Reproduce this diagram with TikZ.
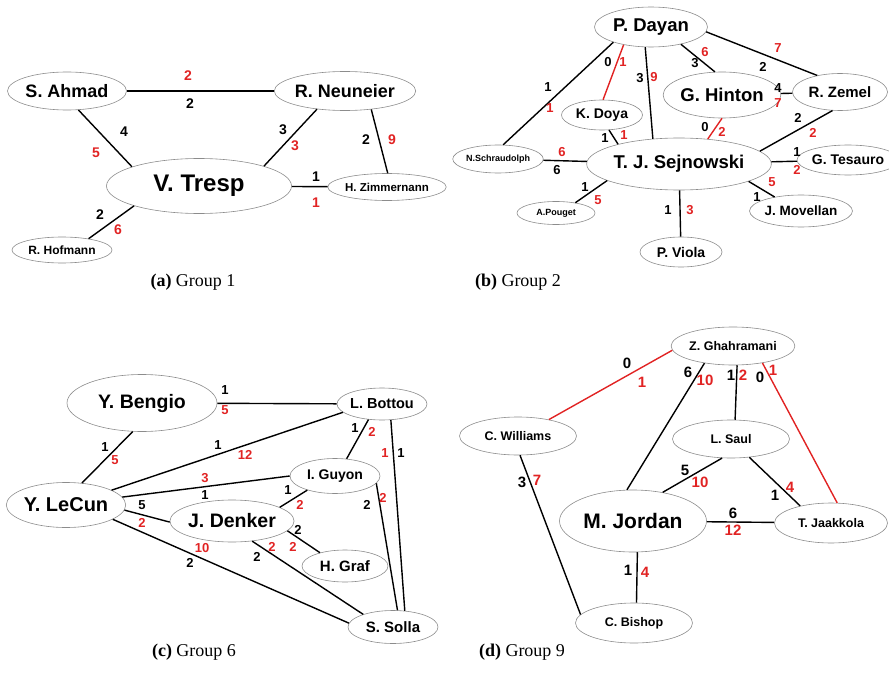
\documentclass[tikz,border=0pt]{standalone}
\usepackage{fontspec}
\setmainfont{Liberation Serif}
\setsansfont{Liberation Sans}
\usetikzlibrary{shapes.geometric}
\definecolor{wred}{RGB}{225,35,35}
\newcommand{\fsz}[1]{\fontsize{#1}{#1}\selectfont}

\begin{document}
\begin{tikzpicture}[
    x=1pt, y=-1pt,
    % Node styles
    person/.style={ellipse, draw=black!45, line width=0.6pt, inner sep=0pt, font=\sffamily\bfseries},
    link/.style={line width=1.4pt, draw=black},
    redlink/.style={line width=1.4pt, draw=wred},
    lab/.style={font=\sffamily\bfseries\fsz{#1}, inner sep=0pt, text=black},
    subcap/.style={font=\fsz{18}},
]
\useasboundingbox (0,0) rectangle (889,682);

% (a) Group 1
\node[person, minimum width=119, minimum height=38] (ahmad) at (67,91) {\fsz{18}S. Ahmad};
\node[person, minimum width=116, minimum height=39] (neuneier) at (345,91) {\fsz{18}R. Neuneier};
\node[person, minimum width=185, minimum height=55] (tresp) at (199,186) {\fsz{24}V. Tresp};
\node[person, minimum width=97, minimum height=27] (zimmer) at (387,187) {\fsz{11.5}H. Zimmernann};
\node[person, minimum width=100, minimum height=26] (hofmann) at (62,250) {\fsz{12}R. Hofmann};

\begin{scope}[bk/.style={lab=14}, rd/.style={lab=14, text=wred}]
\draw[link] (ahmad) -- (neuneier) node[rd] at (188,76) {2} node[bk] at (190,104) {2};
\draw[link] (ahmad.-59) -- (tresp.164) node[bk] at (124,132) {4} node[rd] at (96,153) {5};
\draw[link] (neuneier.-147) -- (tresp.17) node[bk] at (283,130) {3} node[rd] at (295,146) {3};
\draw[link] (neuneier.-35) -- (zimmer.87) node[bk] at (366,140) {2} node[rd] at (392,140) {9};
\draw[link] (tresp) -- (zimmer) node[bk] at (316,177) {1} node[rd] at (316,203) {1};
\draw[link] (tresp.-163) -- (hofmann.23) node[bk] at (100,215) {2} node[rd] at (118,230) {6};
\end{scope}

\node[subcap] (capa) at (193,282) {\textbf{(a)} Group 1};

% (b) Group 2
\node[person, minimum width=113, minimum height=40] (dayan) at (651,27) {\fsz{18.5}P. Dayan};
\node[person, minimum width=81, minimum height=30] (doya) at (602,115) {\fsz{14}K. Doya};
\node[person, minimum width=91, minimum height=46] (hinton) at (722,95) {\fsz{18.5}G. Hinton};
\node[person, minimum width=95, minimum height=37] (zemel) at (840,92) {\fsz{15}R. Zemel};
\node[person, minimum width=168, minimum height=52] (sejnowski) at (679,164) {\fsz{18.5}T. J. Sejnowski};
\node[person, minimum width=80, minimum height=28] (schraudolph) at (498,159) {\fsz{9}N.Schraudolph};
\node[person, minimum width=80, minimum height=30] (tesauro) at (848,160) {\fsz{14}G. Tesauro};
\node[person, minimum width=78, minimum height=23] (pouget) at (556,213) {\fsz{9}A.Pouget};
\node[person, minimum width=82, minimum height=32] (movellan) at (801,211) {\fsz{13.5}J. Movellan};
\node[person, minimum width=82, minimum height=30] (viola) at (681,252) {\fsz{14}P. Viola};

\begin{scope}[bk/.style={lab=13}, rd/.style={lab=13, text=wred}]
\draw[link] (dayan.-158) -- (schraudolph.70) node[bk] at (548,87) {1} node[rd] at (550,108) {1};
\draw[redlink] (dayan.-147) -- (doya.86) node[bk] at (608,62) {0} node[rd] at (623,62) {1};
\draw[link] (dayan.-106) -- (sejnowski.136) node[bk] at (640,78) {3} node[rd] at (654,77) {9};
\draw[link] (dayan.-30) -- (hinton.107) node[bk] at (695,63) {3} node[rd] at (705,52) {6};
\draw[link] (dayan.-5) -- (zemel.144) node[rd] at (778,48) {7} node[bk] at (763,67) {2};
\draw[link] (hinton) -- (zemel) node[bk] at (778,88) {4} node[rd] at (778,103) {7};
\draw[link] (doya.-65) -- (sejnowski.162) node[bk] at (605,138) {1} node[rd] at (624,135) {1};
\draw[redlink] (hinton.-90) -- (sejnowski.41) node[bk] at (705,127) {0} node[rd] at (722,132) {2};
\draw[link] (zemel.-112) -- (sejnowski.9) node[bk] at (798,118) {2} node[rd] at (813,133) {2};
\draw[link] (sejnowski) -- (tesauro) node[bk] at (797,152) {1} node[rd] at (797,170) {2};
\draw[link] (sejnowski.-14) -- (movellan.152) node[bk] at (757,197) {1} node[rd] at (772,182) {5};
\draw[link] (sejnowski) -- (viola) node[bk] at (668,210) {1} node[rd] at (690,210) {3};
\draw[link] (sejnowski.-167) -- (pouget.28) node[bk] at (585,187) {1} node[rd] at (598,200) {5};
\draw[link] (schraudolph) -- (sejnowski) node[rd] at (562,152) {6} node[bk] at (557,170) {6};
\end{scope}

\node[subcap] (capb) at (518,282) {\textbf{(b)} Group 2};

% (c) Group 6
\node[person, minimum width=150, minimum height=57] (bengio) at (142,403) {\fsz{19.5}Y. Bengio};
\node[person, minimum width=87, minimum height=32] (bottou) at (382,404) {\fsz{14.5}L. Bottou};
\node[person, minimum width=118, minimum height=45] (lecun) at (66,505) {\fsz{20}Y. LeCun};
\node[person, minimum width=90, minimum height=35] (guyon) at (335,476) {\fsz{14}I. Guyon};
\node[person, minimum width=110, minimum height=42] (denker) at (232,521) {\fsz{19.5}J. Denker};
\node[person, minimum width=86, minimum height=32] (graf) at (345,566) {\fsz{15}H. Graf};
\node[person, minimum width=90, minimum height=33] (solla) at (393,627) {\fsz{15}S. Solla};

\begin{scope}[bk/.style={lab=13}, rd/.style={lab=13, text=wred}]
\draw[link] (bengio) -- (bottou) node[bk] at (225,390) {1} node[rd] at (225,410) {5};
\draw[link] (bengio.-108) -- (lecun.54) node[bk] at (105,447) {1} node[rd] at (115,460) {5};
\draw[link] (lecun.18) -- (bottou.-168) node[bk] at (218,445) {1} node[rd] at (245,455) {12};
\draw[link] (lecun.8) -- (guyon.180) node[rd] at (205,478) {3} node[bk] at (205,495) {1};
\draw[link] (lecun.-5) -- (denker.181) node[bk] at (142,505) {5} node[rd] at (142,523) {2};
\draw[link] (lecun.-17) -- (solla.175) node[rd] at (202,548) {10} node[bk] at (190,563) {2};
\draw[link] (bottou.-131) -- (guyon.56) node[bk] at (355,428) {1} node[rd] at (372,432) {2};
\draw[link] (bottou.-61) -- (solla.54) node[rd] at (385,453) {1} node[bk] at (401,453) {1};
\draw[link] (guyon.-10) -- (solla.75) node[bk] at (367,505) {2} node[rd] at (383,498) {2};
\draw[link] (guyon.-153) -- (denker.16) node[bk] at (288,490) {1} node[rd] at (300,505) {2};
\draw[link] (denker.-10) -- (graf.152) node[bk] at (298,530) {2} node[rd] at (293,547) {2};
\draw[link] (denker.-45) -- (solla.157) node[bk] at (257,557) {2} node[rd] at (272,547) {2};
\end{scope}

\node[subcap] (capc) at (194,652) {\textbf{(c)} Group 6};

% (d) Group 9
\node[person, minimum width=117, minimum height=38] (ghahramani) at (733,346) {\fsz{12.5}Z. Ghahramani};
\node[person, minimum width=117, minimum height=38] (williams) at (518,436) {\fsz{12.5}C. Williams};
\node[person, minimum width=117, minimum height=38] (saul) at (731,439) {\fsz{12.5}L. Saul};
\node[person, minimum width=147, minimum height=62] (jordan) at (633,521) {\fsz{21}M. Jordan};
\node[person, minimum width=113, minimum height=40] (jaakkola) at (831,523) {\fsz{12.5}T. Jaakkola};
\node[person, minimum width=117, minimum height=40] (bishop) at (634,623) {\fsz{12.5}C. Bishop};

\begin{scope}[bk/.style={lab=15}, rd/.style={lab=15, text=wred}]
\draw[redlink] (ghahramani.184) -- (williams.28) node[bk] at (627,363) {0} node[rd] at (642,382) {1};
\draw[link] (ghahramani.-149) -- (jordan.101) node[bk] at (688,372) {6} node[rd] at (705,380) {10};
\draw[link] (ghahramani.-78) -- (saul.78) node[bk] at (731,375) {1} node[rd] at (743,375) {2};
\draw[redlink] (ghahramani.-30) -- (jaakkola.73) node[bk] at (760,377) {0} node[rd] at (773,370) {1};
\draw[link] (saul.-115) -- (jordan.44) node[bk] at (685,470) {5} node[rd] at (700,482) {10};
\draw[link] (saul.-45) -- (jaakkola.151) node[bk] at (775,495) {1} node[rd] at (790,487) {4};
\draw[link] (jordan) -- (jaakkola) node[bk] at (733,513) {6} node[rd] at (733,530) {12};
\draw[link] (jordan.-82) -- (bishop.83) node[bk] at (628,570) {1} node[rd] at (645,572) {4};
\draw[link] (williams.-84) -- (bishop.171) node[bk] at (522,482) {3} node[rd] at (537,480) {7};
\end{scope}

\node[subcap] (capd) at (522,652) {\textbf{(d)} Group 9};

\end{tikzpicture}
\end{document}
